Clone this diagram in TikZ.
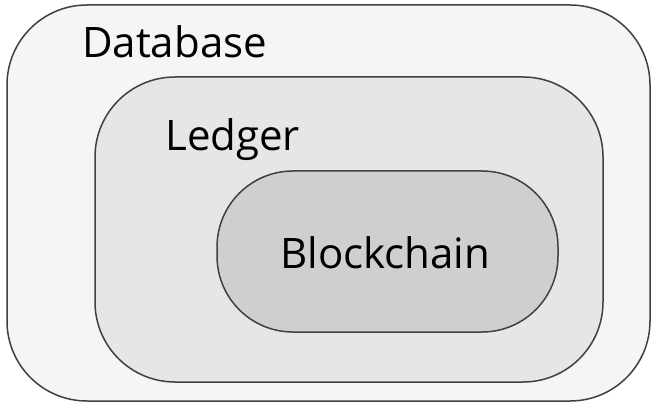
\documentclass[tikz,border=0pt]{standalone}
\usepackage{fontspec}
\setmainfont{Open Sans}
\definecolor{outerfill}{HTML}{F5F5F5}
\definecolor{midfill}{HTML}{E6E6E6}
\definecolor{innerfill}{HTML}{CFCFCF}
\definecolor{edge}{HTML}{404040}
\begin{document}
\begin{tikzpicture}[x=1pt,y=-1pt,
  layer/.style={draw=edge,line width=1.5pt},
  lbl/.style={anchor=base west,inner sep=0pt,font=\fontsize{42}{50}\selectfont,text=black}]
\useasboundingbox (0,0) rectangle (652,403);
\fill[white] (0,0) rectangle (652,403);
% outer layer: database
\draw[layer,fill=outerfill,rounded corners=80pt] (7,5) rectangle (650,401);
% middle layer: ledger
\draw[layer,fill=midfill,rounded corners=80pt] (95,77) rectangle (603,382);
% inner layer: blockchain
\draw[layer,fill=innerfill,rounded corners=76pt] (217,171) rectangle (558,332);
\node[lbl] (db) at (82,58) {Database};
\node[lbl] (ld) at (165,151) {Ledger};
\node[lbl] (bc) at (280,268) {Blockchain};
\end{tikzpicture}
\end{document}
